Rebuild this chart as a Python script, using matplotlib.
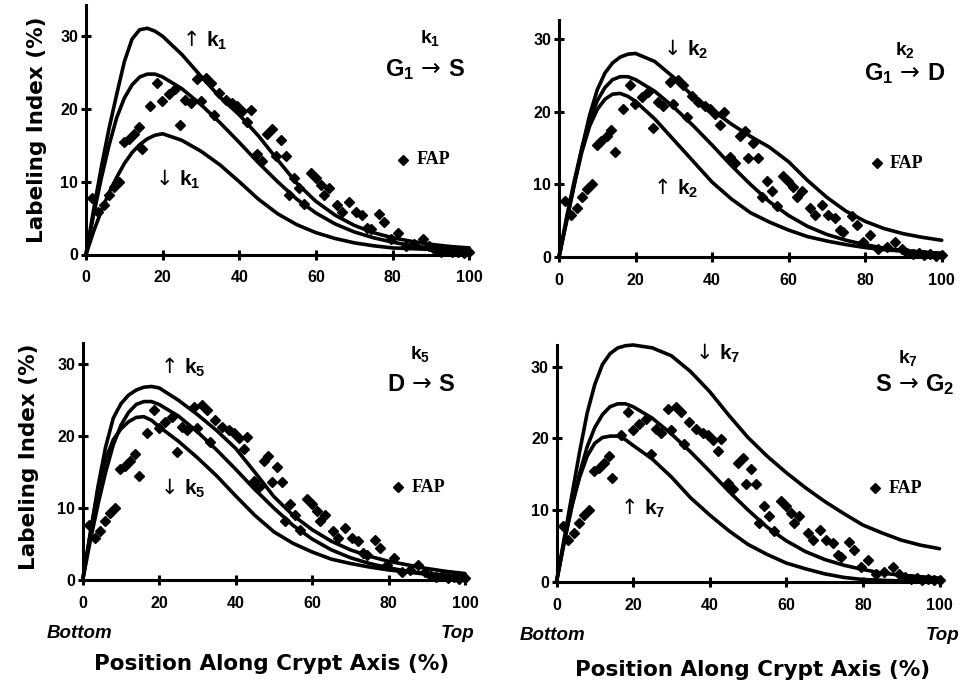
import matplotlib
matplotlib.use('Agg')
import matplotlib.pyplot as plt

plt.rcParams['font.family'] = ['Liberation Sans', 'DejaVu Sans']
plt.rcParams['mathtext.fontset'] = 'custom'
plt.rcParams['mathtext.rm'] = 'Liberation Sans:bold'
plt.rcParams['mathtext.it'] = 'Liberation Sans:bold'
plt.rcParams['mathtext.bf'] = 'Liberation Sans:bold'

# position along crypt axis (%) where the model curves were read
pos = [0, 2, 4, 6, 8, 10, 12, 14, 16, 18, 20, 25, 30, 35, 40, 45, 50,
       55, 60, 65, 70, 75, 80, 85, 90, 95, 100]

# baseline model (middle curve, same in every panel)
base_li = [0, 5.5, 10.5, 15.0, 18.8, 21.5, 23.3, 24.4, 24.8, 24.8, 24.4, 22.8, 20.6,
           18.1, 15.4, 12.6, 10.0, 7.6, 5.7, 4.2, 3.1, 2.3, 1.7, 1.2, 0.9, 0.7, 0.5]

# k1 : G1 -> S
k1_up_li = [0, 6.2, 12.0, 17.3, 22.0, 26.5, 29.6, 30.9, 31.1, 30.7, 30.0, 27.5, 24.5,
            21.6, 19.2, 16.3, 13.0, 9.8, 7.3, 5.4, 4.0, 3.0, 2.3, 1.8, 1.4, 1.1, 0.9]
k1_down_li = [0, 3.2, 6.0, 8.5, 10.6, 12.5, 14.0, 15.1, 15.9, 16.4, 16.6, 15.7, 14.2,
              12.3, 10.0, 7.6, 5.6, 4.1, 3.0, 2.2, 1.6, 1.2, 0.9, 0.8, 0.7, 0.6, 0.5]

# k2 : G1 -> D
k2_down_li = [0, 5.0, 10.0, 15.0, 19.5, 23.0, 25.3, 26.7, 27.5, 27.9, 28.0, 26.9, 24.7,
              22.1, 20.2, 18.3, 16.6, 15.1, 13.1, 10.5, 8.2, 6.3, 4.9, 3.9, 3.2, 2.7, 2.3]
k2_up_li = [0, 5.0, 10.0, 14.5, 18.0, 20.3, 21.7, 22.4, 22.5, 22.1, 21.4, 19.0, 16.1,
            13.2, 10.3, 8.0, 6.1, 4.8, 3.7, 2.8, 2.2, 1.7, 1.3, 1.0, 0.8, 0.6, 0.5]

# k5 : D -> S
k5_up_li = [0, 6.5, 13.0, 18.5, 22.5, 24.5, 25.7, 26.4, 26.8, 26.9, 26.7, 25.0, 23.0,
            20.8, 18.3, 15.0, 11.6, 9.0, 7.0, 5.4, 4.2, 3.3, 2.6, 2.1, 1.6, 1.2, 0.9]
k5_down_li = [0, 6.5, 12.5, 16.8, 19.5, 21.0, 22.0, 22.6, 22.7, 22.2, 21.3, 19.3, 17.0,
              14.5, 11.7, 9.0, 6.7, 5.1, 3.9, 2.9, 2.3, 1.8, 1.4, 1.1, 0.8, 0.6, 0.5]

# k7 : S -> G2
k7_down_li = [0, 6.0, 12.0, 18.0, 23.5, 27.5, 30.3, 31.8, 32.6, 32.9, 33.0, 32.6, 31.5,
              29.3, 26.5, 23.2, 20.1, 17.5, 15.2, 13.1, 11.2, 9.5, 7.9, 6.8, 5.8, 5.1, 4.6]
k7_up_li = [0, 5.5, 10.5, 14.5, 17.5, 19.3, 20.1, 20.3, 20.3, 19.8, 19.0, 17.1, 14.6,
            11.7, 9.3, 7.1, 5.2, 3.8, 2.6, 1.8, 1.1, 0.6, 0.3, 0.2, 0.1, 0.0, 0.0]

# FAP labeling index data
fap_x = [1.6, 3.1, 4.6, 5.9, 7.2, 8.5, 9.8, 11.1, 12.5, 13.7, 14.6, 16.8, 18.6, 19.9,
         21.6, 23.3, 24.6, 25.9, 27.3, 29.0, 29.9, 31.2, 32.5, 33.4, 34.7, 36.4, 38.2,
         39.5, 40.8, 42.1, 43.0, 44.7, 46.0, 47.3, 48.6, 49.5, 50.8, 52.1, 53.0, 54.3,
         55.6, 56.9, 58.6, 59.9, 61.2, 62.1, 63.4, 65.6, 66.9, 68.7, 70.4, 72.1, 73.4,
         74.3, 76.5, 77.8, 79.5, 81.3, 83.4, 85.6, 87.8, 89.5, 91.0, 92.5, 94.0, 95.5,
         97.0, 98.5, 100.0]
fap_y = [7.7, 5.8, 6.8, 8.2, 9.3, 10.0, 15.4, 15.9, 16.6, 17.5, 14.5, 20.4, 23.6, 21.1,
         22.0, 22.7, 17.8, 21.3, 20.8, 24.1, 21.1, 24.3, 23.6, 19.2, 22.2, 21.3, 20.8,
         20.4, 19.7, 18.2, 19.9, 13.8, 12.9, 16.6, 17.3, 13.6, 15.7, 13.6, 8.2, 10.5,
         9.1, 7.0, 11.2, 10.5, 9.6, 8.2, 9.1, 6.8, 5.8, 7.2, 5.8, 5.4, 3.7,
         3.5, 5.6, 4.4, 2.1, 3.0, 1.1, 1.4, 2.1, 1.1, 0.6, 0.4, 0.5, 0.3,
         0.4, 0.2, 0.3]

xticks = [0, 20, 40, 60, 80, 100]
yticks = [0, 10, 20, 30]

W, H = 966, 683
fig = plt.figure(figsize=(W / 100, H / 100), dpi=100)


def make_axes(x0, x100, y0, ytop, ymax):
    # axes box given in pixel coordinates of the figure
    ax = fig.add_axes([x0 / W, 1 - y0 / H, (x100 - x0) / W, (y0 - ytop) / H])
    ax.set_xlim(0, 100)
    ax.set_ylim(0, ymax)
    for s in ['top', 'right']:
        ax.spines[s].set_visible(False)
    for s in ['left', 'bottom']:
        ax.spines[s].set_linewidth(2.2)
    ax.set_xticks(xticks)
    ax.set_yticks(yticks)
    ax.tick_params(direction='inout', length=7, width=2.2, labelsize=11.5)
    ax.tick_params(axis='x', pad=8)
    ax.tick_params(axis='y', pad=2)
    for lab in ax.get_xticklabels() + ax.get_yticklabels():
        lab.set_fontweight('bold')
    return ax


def arrow_label(ax, x, y, arrow, k):
    # thin arrow glyph followed by bold k with subscript
    ax.text(x, y, arrow + ' ' + k, fontsize=15, ha='left', va='center',
            family=['DejaVu Sans'])


def draw_panel(ax, upper, lower, arrow_up, arrow_down, rate, step, fap_xy):
    for curve in (upper, base_li, lower):
        ax.plot(pos, curve, color='black', lw=2.6, solid_joinstyle='round',
                solid_capstyle='round', clip_on=False)
    ax.plot(fap_x, fap_y, 'D', color='black', ms=5.2, clip_on=False)
    tx, ty, lab = arrow_up
    arrow_label(ax, tx, ty, '↑', lab)
    tx, ty, lab = arrow_down
    arrow_label(ax, tx, ty, '↓', lab)
    tx, ty, lab = rate
    ax.text(tx, ty, lab, fontsize=14, ha='center', va='center')
    tx, ty, a, b = step
    ax.text(tx, ty, a + ' → ' + b, fontsize=17, ha='center', va='center',
            family=['DejaVu Sans'])
    fx, fy = fap_xy
    ax.plot([fx], [fy], 'D', color='black', ms=5.4, clip_on=False)
    ax.text(fx + 3.5, fy, 'FAP', fontsize=13, fontweight='bold', ha='left', va='center',
            family=['Liberation Serif', 'DejaVu Serif'])


# top left : k1
ax1 = make_axes(86, 469.3, 254.5, 5, 34.3)
draw_panel(ax1, k1_up_li, k1_down_li,
           (25.0, 29.5, r'$k_1$'), (18.0, 10.3, r'$k_1$'),
           (89.8, 29.8, r'$k_1$'), (88.5, 25.4, r'$G_1$', r'$S$'), (82.8, 13.0))

# top right : k2
ax2 = make_axes(559, 941.7, 257, 20, 32.6)
draw_panel(ax2, k2_down_li, k2_up_li,
           (24.5, 9.4, r'$k_2$'), (27.2, 28.5, r'$k_2$'),
           (90.3, 28.5, r'$k_2$'), (90.3, 25.2, r'$G_1$', r'$D$'), (83.0, 12.9))

# bottom left : k5
ax3 = make_axes(82.7, 465, 580, 343.3, 32.9)
draw_panel(ax3, k5_up_li, k5_down_li,
           (20.2, 29.5, r'$k_5$'), (20.2, 12.7, r'$k_5$'),
           (88.3, 31.4, r'$k_5$'), (88.6, 27.2, r'$D$', r'$S$'), (82.6, 12.9))

# bottom right : k7
ax4 = make_axes(556.5, 939.5, 581.7, 345, 33.0)
draw_panel(ax4, k7_down_li, k7_up_li,
           (16.6, 10.2, r'$k_7$'), (36.2, 31.8, r'$k_7$'),
           (91.8, 31.2, r'$k_7$'), (93.6, 27.5, r'$S$', r'$G_2$'), (83.1, 13.0))

# axis titles
big = dict(fontsize=15.5, fontweight='bold', family=['DejaVu Sans'])
fig.text(37 / W, 1 - 130 / H, 'Labeling Index (%)', rotation=90, ha='center', va='center', **big)
fig.text(29 / W, 1 - 457 / H, 'Labeling Index (%)', rotation=90, ha='center', va='center', **big)
fig.text(272 / W, 1 - 664 / H, 'Position Along Crypt Axis (%)', ha='center', va='center', **big)
fig.text(753 / W, 1 - 670 / H, 'Position Along Crypt Axis (%)', ha='center', va='center', **big)

ends = dict(fontsize=13.5, fontweight='bold', style='italic', va='center')
fig.text(47 / W, 1 - 633 / H, 'Bottom', ha='left', **ends)
fig.text(474 / W, 1 - 633 / H, 'Top', ha='right', **ends)
fig.text(520 / W, 1 - 635 / H, 'Bottom', ha='left', **ends)
fig.text(959 / W, 1 - 635 / H, 'Top', ha='right', **ends)

fig.savefig('out.png', dpi=100)
